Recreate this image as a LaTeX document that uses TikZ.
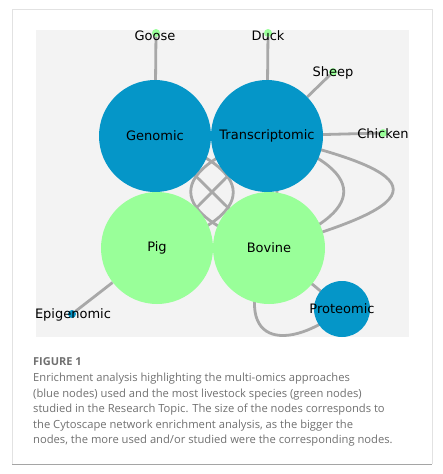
\documentclass[tikz,border=0pt]{standalone}
\usepackage{fontspec}
\setmainfont{DejaVu Sans}
\newfontfamily\capfont{Open Sans}
\usetikzlibrary{backgrounds}
\definecolor{nblue}{HTML}{0596C8}
\definecolor{ngreen}{HTML}{99FF99}
\definecolor{edgegray}{HTML}{A8A8A8}
\definecolor{panelbg}{HTML}{F3F3F3}
\definecolor{captext}{HTML}{707070}
\definecolor{framelight}{HTML}{E2E2E2}
\definecolor{framedark}{HTML}{A5A5A5}
\pgfdeclarelayer{edgelayer}
\pgfsetlayers{background,edgelayer,main}
\begin{document}
\begin{tikzpicture}[x=1pt,y=-1pt,
  omicsnode/.style={circle, fill=nblue, draw=none, inner sep=0pt},
  speciesnode/.style={circle, fill=ngreen, draw=none, inner sep=0pt},
  bigsize/.style={minimum size=112pt},
  midsize/.style={minimum size=56pt},
  dotsize/.style={minimum size=8pt},
  nodelabel/.style={font=\fontsize{13}{15}\selectfont, text=black, inner sep=0pt},
  edge/.style={draw=edgegray, line width=2.8pt},
  captitle/.style={font=\capfont\bfseries\fontsize{11}{13}\selectfont, text=captext, inner sep=0pt, anchor=west},
  capbody/.style={font=\capfont\fontsize{11.2}{15.5}\selectfont, text=captext, inner sep=0pt, anchor=north west, align=left}
]
\useasboundingbox (0,0) rectangle (443,474);
% frame and panel
\begin{pgfonlayer}{background}
\draw[framelight, line width=1pt] (12,464) -- (12,9) -- (432,9) -- (432,464);
\draw[framedark, line width=1pt] (12,464) -- (432,464);
\fill[panelbg] (36,30) rectangle (409,337);
\end{pgfonlayer}

% nodes
\node[omicsnode, bigsize] (gen) at (155,136) {};
\node[omicsnode, bigsize] (tra) at (267,136) {};
\node[speciesnode, bigsize] (pig) at (157,248) {};
\node[speciesnode, bigsize] (bov) at (269,248) {};
\node[omicsnode, midsize] (pro) at (342,309) {};
\node[omicsnode, dotsize] (epi) at (72,314) {};
\node[speciesnode, dotsize] (goose) at (156,33) {};
\node[speciesnode, dotsize] (duck) at (268,33) {};
\node[speciesnode, dotsize] (sheep) at (333,72) {};
\node[speciesnode, dotsize] (chick) at (383,133) {};

% labels
\node[nodelabel] (genl) at (gen) {Genomic};
\node[nodelabel] (tral) at (tra) {Transcriptomic};
\node[nodelabel] (pigl) at (pig) {Pig};
\node[nodelabel] (bovl) at (bov) {Bovine};
\node[nodelabel] (prol) at (pro) {Proteomic};
\node[nodelabel] (epil) at (73,315) {Epigenomic};
\node[nodelabel] (goosel) at (155,36) {Goose};
\node[nodelabel] (duckl) at (268,36) {Duck};
\node[nodelabel] (sheepl) at (333,73) {Sheep};
\node[nodelabel] (chickl) at (383,134) {Chicken};

% edges
\begin{pgfonlayer}{edgelayer}
\draw[edge] (goose) -- (gen);
\draw[edge] (duck) -- (tra);
\draw[edge] (sheep) -- (tra);
\draw[edge] (chick) -- (tra);
\draw[edge] (epi) -- (pig);
\draw[edge] (gen.center) -- (bov.center);
\draw[edge] (tra.center) -- (pig.center);
\draw[edge] (tra.center) .. controls (435,175) and (435,202) .. (bov.center);
\draw[edge] (tra.center) .. controls (369,170) and (369,212) .. (bov.center);
\draw[edge] (tra.center) .. controls (280,170) and (280,214) .. (bov.center);
\draw[edge] (tra.center) .. controls (165,170) and (165,214) .. (bov.center);
\draw[edge] (gen.center) .. controls (259,170) and (259,214) .. (pig.center);
\draw[edge] (bov.center) -- (pro.center);
\draw[edge] (bov.center) .. controls (225,350) and (290,352) .. (pro.center);
\end{pgfonlayer}

% caption
\node[captitle] (figt) at (33,362) {FIGURE 1};
\node[capbody] (figc) at (33,373) {Enrichment analysis highlighting the multi-omics approaches\\(blue nodes) used and the most livestock species (green nodes)\\studied in the Research Topic. The size of the nodes corresponds to\\the Cytoscape network enrichment analysis, as the bigger the\\nodes, the more used and/or studied were the corresponding nodes.};
\end{tikzpicture}
\end{document}
